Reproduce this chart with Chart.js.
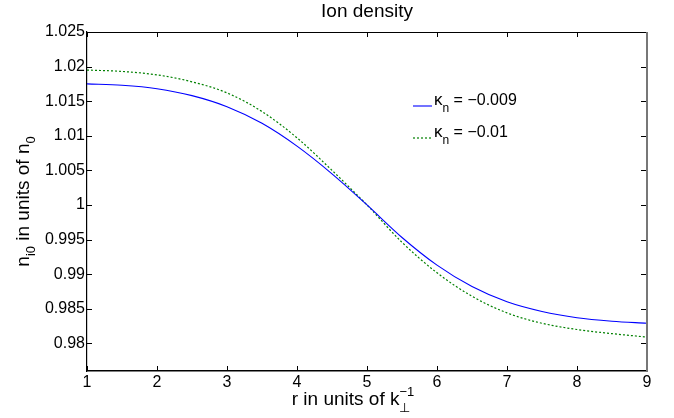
<!DOCTYPE html>
<html>
<head>
<meta charset="utf-8">
<script src="https://cdn.jsdelivr.net/npm/chart.js@4.4.1/dist/chart.umd.min.js"></script>
<style>
  body { margin: 0; background: #fff; }
  .chart-container { position: relative; width: 674px; height: 418px; }
</style>
</head>
<body>
<div class="chart-container"><canvas id="chart"></canvas></div>
<script>
// radius r in units of 1/k_perp
const radius = [1, 1.5, 2, 2.5, 3, 3.5, 4, 4.5, 5, 5.5, 6, 6.5, 7, 7.5, 8, 8.5, 9];
// ion density n_i0 / n_0
const densityK009 = [1.0175, 1.0173, 1.0168, 1.0158, 1.0142, 1.0118, 1.0085, 1.0045, 1.0000,
                     0.9953, 0.9913, 0.9882, 0.9860, 0.9846, 0.9837, 0.9832, 0.9829];
const densityK01  = [1.0195, 1.0193, 1.0188, 1.0178, 1.0162, 1.0135, 1.0097, 1.0050, 1.0000,
                     0.9946, 0.9902, 0.9868, 0.9844, 0.9829, 0.9820, 0.9814, 0.9809];
const kappaLabels = ['\u22120.009', '\u22120.01'];
const xTicks = [1, 2, 3, 4, 5, 6, 7, 8, 9];
const yTicks = [0.98, 0.985, 0.99, 0.995, 1, 1.005, 1.01, 1.015, 1.02, 1.025];
const yTickLabels = ['0.98', '0.985', '0.99', '0.995', '1', '1.005', '1.01', '1.015', '1.02', '1.025'];

const FONT = "'Liberation Sans', Arial, sans-serif";

// draw a run of text pieces with sub/superscripts, starting at x (left aligned)
function drawPieces(ctx, pieces, x, y) {
    let cx = x;
    pieces.forEach(p => {
        ctx.font = p.size + 'px ' + FONT;
        ctx.fillText(p.t, cx, y + (p.dy || 0));
        if (!p.stack) cx += ctx.measureText(p.t).width;
    });
    return cx;
}
function piecesWidth(ctx, pieces) {
    let w = 0;
    pieces.forEach(p => {
        ctx.font = p.size + 'px ' + FONT;
        if (!p.stack) w += ctx.measureText(p.t).width;
    });
    return w;
}

const matlabFrame = {
    id: 'matlabFrame',
    afterDraw(chart) {
        const { ctx, chartArea: a, scales: { x, y } } = chart;
        ctx.save();

        // inward ticks on all four sides
        ctx.strokeStyle = '#000';
        ctx.lineWidth = 1;
        ctx.beginPath();
        xTicks.forEach(v => {
            const px = Math.round(x.getPixelForValue(v)) + 0.5;
            ctx.moveTo(px, a.bottom); ctx.lineTo(px, a.bottom - 5);
            ctx.moveTo(px, a.top); ctx.lineTo(px, a.top + 5);
        });
        yTicks.forEach(v => {
            const py = Math.round(y.getPixelForValue(v)) + 0.5;
            ctx.moveTo(a.left, py); ctx.lineTo(a.left + 5, py);
            ctx.moveTo(a.right, py); ctx.lineTo(a.right - 6, py);
        });
        ctx.stroke();

        // top edge
        ctx.beginPath();
        ctx.moveTo(a.left, Math.round(a.top) + 0.5);
        ctx.lineTo(a.right, Math.round(a.top) + 0.5);
        ctx.stroke();
        // right edge (greyish and heavier in the original)
        ctx.strokeStyle = '#777';
        ctx.lineWidth = 2;
        ctx.beginPath();
        ctx.moveTo(Math.round(a.right), a.top);
        ctx.lineTo(Math.round(a.right), a.bottom + 1);
        ctx.stroke();

        ctx.fillStyle = '#000';
        ctx.textBaseline = 'alphabetic';

        // title
        ctx.font = '19px ' + FONT;
        ctx.textAlign = 'center';
        ctx.fillText('Ion density', (a.left + a.right) / 2, 17);
        ctx.textAlign = 'left';

        // x axis title: r in units of k_perp^-1
        const xt = [
            { t: 'r in units of k', size: 19 },
            { t: '\u22A5', size: 13, dy: 7, stack: true },
            { t: '\u22121', size: 13, dy: -9 }
        ];
        drawPieces(ctx, xt, (a.left + a.right) / 2 - piecesWidth(ctx, xt) / 2 - 14, 405);

        // y axis title: n_i0 in units of n_0
        const yt = [
            { t: 'n', size: 19 },
            { t: 'i0', size: 13, dy: 6 },
            { t: ' in units of n', size: 19 },
            { t: '0', size: 13, dy: 6 }
        ];
        ctx.save();
        ctx.translate(29, (a.top + a.bottom) / 2);
        ctx.rotate(-Math.PI / 2);
        drawPieces(ctx, yt, -piecesWidth(ctx, yt) / 2, 0);
        ctx.restore();

        // legend inside the axes
        chart.data.datasets.forEach((ds, i) => {
            const base = 105 + i * 32;
            ctx.strokeStyle = ds.borderColor;
            ctx.lineWidth = ds.borderWidth;
            ctx.setLineDash(ds.borderDash || []);
            ctx.beginPath();
            ctx.moveTo(413, base + 1);
            ctx.lineTo(432, base + 1);
            ctx.stroke();
            ctx.setLineDash([]);
            drawPieces(ctx, [
                { t: '\u03BA', size: 17 },
                { t: 'n', size: 12, dy: 7 },
                { t: ' = ' + kappaLabels[i], size: 16 }
            ], 434, base);
        });

        ctx.restore();
    }
};

const ctx = document.getElementById('chart').getContext('2d');
new Chart(ctx, {
    type: 'line',
    data: {
        datasets: [{
            label: '\u03BAn = ' + kappaLabels[0],
            data: radius.map((r, i) => ({ x: r, y: densityK009[i] })),
            borderColor: '#0000ff',
            borderWidth: 1.1,
            pointRadius: 0,
            cubicInterpolationMode: 'monotone'
        }, {
            label: '\u03BAn = ' + kappaLabels[1],
            data: radius.map((r, i) => ({ x: r, y: densityK01[i] })),
            borderColor: '#008000',
            borderWidth: 1.2,
            borderDash: [2, 2],
            pointRadius: 0,
            cubicInterpolationMode: 'monotone'
        }]
    },
    options: {
        responsive: true,
        maintainAspectRatio: false,
        animation: false,
        layout: { padding: { left: 0, right: 27, top: 32, bottom: 0 } },
        plugins: {
            legend: { display: false },
            tooltip: { enabled: false },
            title: { display: false }
        },
        scales: {
            x: {
                type: 'linear',
                min: 1,
                max: 9,
                afterFit: s => { s.height = 47; },
                afterBuildTicks: s => { s.ticks = xTicks.map(v => ({ value: v })); },
                grid: { display: false, drawTicks: false },
                border: { display: true, color: '#000', width: 1.5 },
                ticks: {
                    padding: 2,
                    color: '#000',
                    font: { family: FONT, size: 16 },
                    maxRotation: 0,
                    callback: v => String(v)
                }
            },
            y: {
                type: 'linear',
                min: 0.976,
                max: 1.025,
                afterFit: s => { s.width = 87; },
                afterBuildTicks: s => { s.ticks = yTicks.map(v => ({ value: v })); },
                grid: { display: false, drawTicks: false },
                border: { display: true, color: '#000', width: 1.2 },
                ticks: {
                    padding: 2,
                    color: '#000',
                    font: { family: FONT, size: 16 },
                    callback: v => yTickLabels[yTicks.findIndex(t => Math.abs(t - v) < 1e-9)]
                }
            }
        }
    },
    plugins: [matlabFrame]
});
</script>
</body>
</html>
